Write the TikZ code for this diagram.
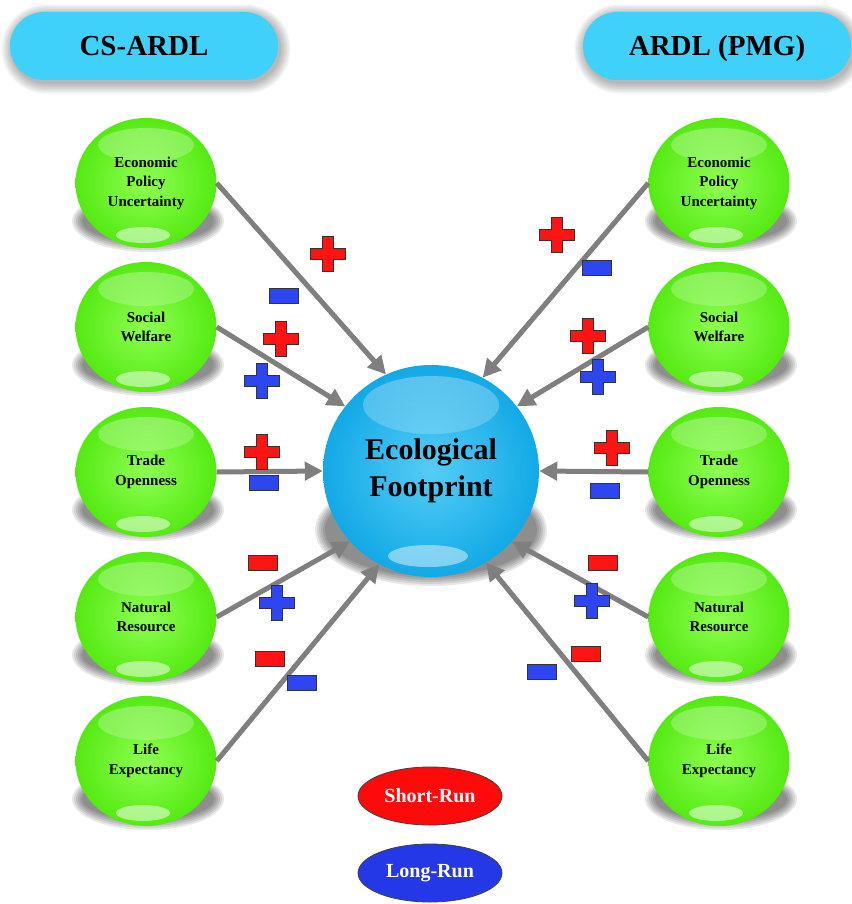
\documentclass[tikz,border=0pt]{standalone}
\usepackage{fontspec}
\setmainfont{Liberation Serif}
\usetikzlibrary{shapes.geometric,arrows.meta,fadings}
\definecolor{gLight}{HTML}{8EFF52}
\definecolor{gDark}{HTML}{55EA12}
\definecolor{bLight}{HTML}{55CDF6}
\definecolor{bDark}{HTML}{12A9E6}
\definecolor{bannerC}{HTML}{3FD1F9}
\definecolor{arrC}{HTML}{7F7F7F}
\definecolor{sgred}{HTML}{FF1414}
\definecolor{sgblue}{HTML}{2E45F2}
\definecolor{legred}{HTML}{FF0A0A}
\definecolor{legblue}{HTML}{2438E8}
\newcommand\softshadow[4]{%
  \foreach \k in {0,...,5}{%
    \fill[black, fill opacity=0.09] (#1,#2) ellipse ({#3pt-\k*2pt} and {#4pt-\k*2pt});
  }%
}
\newcommand\bannershadow[2]{%
  \foreach \k in {0,...,6}{%
    \pgfmathsetmacro\ee{1+\k*1.6}%
    \pgfmathsetmacro\rr{34+\ee}%
    \fill[black, fill opacity=0.045, rounded corners=\rr pt] ({#1+2-134-\ee},{#2+3-34-\ee}) rectangle ({#1+2+134+\ee},{#2+3+34+\ee});
  }%
}
\begin{document}
\begin{tikzpicture}[x=1pt,y=-1pt,
  gball/.style={ellipse, minimum width=141pt, minimum height=130pt, inner sep=0pt,
    inner color=gLight, outer color=gDark, align=center, text=black,
    font=\bfseries\fontsize{15}{19.5}\selectfont,
    path picture={
      \fill[white, fill opacity=0.32, path fading=south] ([yshift=38pt]path picture bounding box.center) ellipse (48pt and 17pt);
      \fill[white, fill opacity=0.5] ([xshift=-3pt,yshift=-52pt]path picture bounding box.center) ellipse (27pt and 8pt);
    }},
  bball/.style={ellipse, minimum width=216pt, minimum height=212pt, inner sep=0pt,
    inner color=bLight, outer color=bDark, align=center, text=black,
    font=\bfseries\fontsize{30}{37}\selectfont,
    path picture={
      \fill[white, fill opacity=0.3, path fading=south] ([yshift=66pt]path picture bounding box.center) ellipse (68pt and 29pt);
      \fill[white, fill opacity=0.45] ([xshift=-3pt,yshift=-85pt]path picture bounding box.center) ellipse (40pt and 11pt);
    }},
  banner/.style={rectangle, rounded corners=34pt, minimum width=268pt, minimum height=68pt,
    fill=bannerC, text=black, text height=20pt, text depth=1pt,
    font=\bfseries\fontsize{29}{34}\selectfont},
  arr/.style={draw=arrC, line width=5pt, -{Triangle[length=18pt,width=18pt]}},
  legend/.style={ellipse, minimum width=144pt, minimum height=58pt, inner sep=0pt,
    draw=black!75, line width=0.8pt, text=white, font=\bfseries\fontsize{20}{24}\selectfont},
  pics/plusmk/.style={code={\filldraw[fill=#1, draw=black!80, line width=1pt]
    (-5.3,-17.5) -- (5.3,-17.5) -- (5.3,-5.3) -- (17.5,-5.3) -- (17.5,5.3) -- (5.3,5.3) --
    (5.3,17.5) -- (-5.3,17.5) -- (-5.3,5.3) -- (-17.5,5.3) -- (-17.5,-5.3) -- (-5.3,-5.3) -- cycle;}},
  pics/minusmk/.style={code={\filldraw[fill=#1, draw=black!80, line width=1pt]
    (-14.5,-7.5) rectangle (14.5,7.5);}}
]
\useasboundingbox (0,0) rectangle (851,904);
\fill[white] (0,0) rectangle (851,904);

% banners
\bannershadow{144}{46}
\bannershadow{717}{46}
\node[banner] (csardl) at (144,46) {CS-ARDL};
\node[banner] (pmg) at (717,46) {ARDL (PMG)};

% shadows
\foreach \yy in {183,327,472,617,761}{
  \softshadow{148}{\yy+38}{76}{31}
  \softshadow{721}{\yy+38}{76}{31}
}
\softshadow{431}{530}{116}{56}

% centre
\node[bball] (ef) at (431,471) {Ecological\\Footprint};

% left balls
\node[gball] (l1) at (146,183) {Economic\\Policy\\Uncertainty};
\node[gball] (l2) at (146,327) {Social\\Welfare};
\node[gball] (l3) at (146,472) {Trade\\Openness};
\node[gball] (l4) at (146,617) {Natural\\Resource};
\node[gball] (l5) at (146,761) {Life\\Expectancy};
% right balls
\node[gball] (r1) at (719,183) {Economic\\Policy\\Uncertainty};
\node[gball] (r2) at (719,327) {Social\\Welfare};
\node[gball] (r3) at (719,472) {Trade\\Openness};
\node[gball] (r4) at (719,617) {Natural\\Resource};
\node[gball] (r5) at (719,761) {Life\\Expectancy};

% arrows
\draw[arr] (l1.east) -- (ef.115);
\draw[arr] (l2.east) -- (ef.143);
\draw[arr] (l3.east) -- (ef.west);
\draw[arr] (l4.east) -- (ef.221);
\draw[arr] (l5.east) -- (ef.241);
\draw[arr] (r1.west) -- (ef.61);
\draw[arr] (r2.west) -- (ef.37);
\draw[arr] (r3.west) -- (ef.east);
\draw[arr] (r4.west) -- (ef.-41);
\draw[arr] (r5.west) -- (ef.-59);

% signs left
\pic at (328,254) {plusmk=sgred};
\pic at (284,296) {minusmk=sgblue};
\pic at (281,339) {plusmk=sgred};
\pic at (262,381) {plusmk=sgblue};
\pic at (262,452) {plusmk=sgred};
\pic at (264,483) {minusmk=sgblue};
\pic at (263,563) {minusmk=sgred};
\pic at (277,603) {plusmk=sgblue};
\pic at (270,659) {minusmk=sgred};
\pic at (302,683) {minusmk=sgblue};
% signs right
\pic at (557,235) {plusmk=sgred};
\pic at (597,268) {minusmk=sgblue};
\pic at (588,336) {plusmk=sgred};
\pic at (598,377) {plusmk=sgblue};
\pic at (612,448) {plusmk=sgred};
\pic at (605,491) {minusmk=sgblue};
\pic at (603,563) {minusmk=sgred};
\pic at (592,601) {plusmk=sgblue};
\pic at (586,654) {minusmk=sgred};
\pic at (542,672) {minusmk=sgblue};

% legend
\node[legend, fill=legred] (sr) at (430,796) {Short-Run};
\node[legend, fill=legblue] (lr) at (430,873) {Long-Run};
\end{tikzpicture}
\end{document}
